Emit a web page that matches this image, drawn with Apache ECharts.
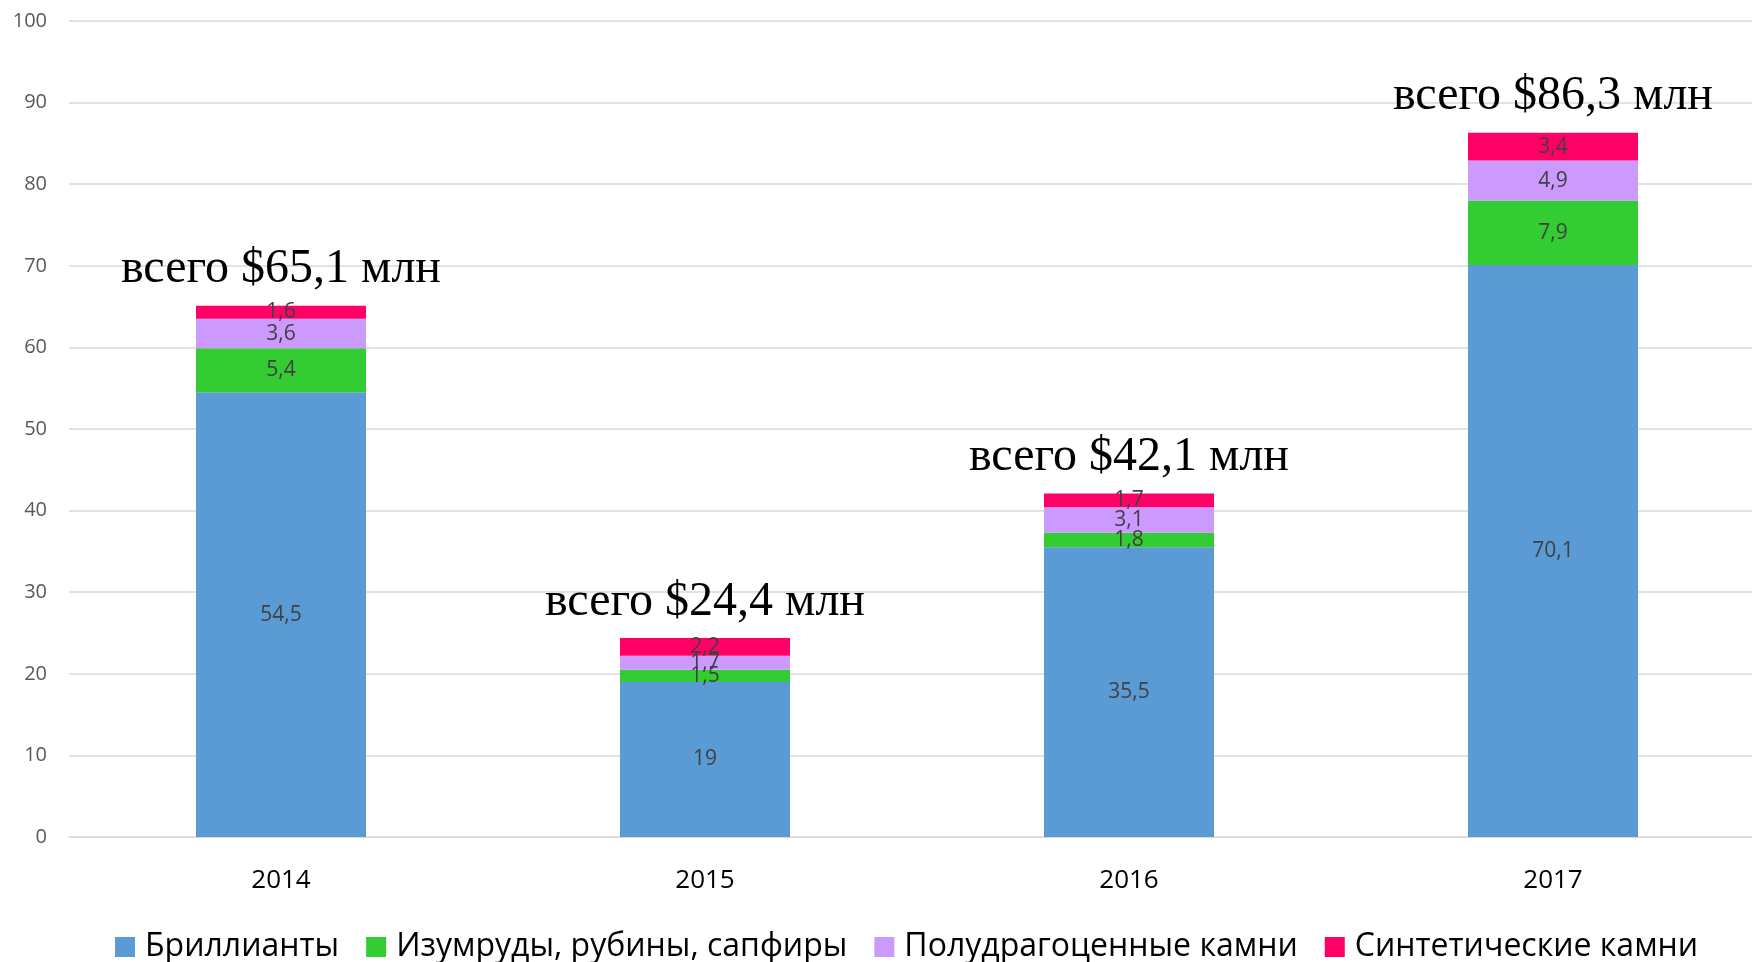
<!DOCTYPE html>
<html>
<head>
<meta charset="utf-8">
<script src="https://cdn.jsdelivr.net/npm/echarts@6/dist/echarts.min.js"></script>
<style>
  html, body { margin: 0; padding: 0; background: #fff; }
  #chart { width: 1752px; height: 962px; }
</style>
</head>
<body>
<div id="chart"></div>
<script>
var years = ['2014', '2015', '2016', '2017'];
var diamonds = [54.5, 19, 35.5, 70.1];
var emeralds = [5.4, 1.5, 1.8, 7.9];
var semiPrecious = [3.6, 1.7, 3.1, 4.9];
var synthetic = [1.6, 2.2, 1.7, 3.4];
var totals = [65.1, 24.4, 42.1, 86.3];
var yTicks = [0, 10, 20, 30, 40, 50, 60, 70, 80, 90, 100];

var names = ['Бриллианты', 'Изумруды, рубины, сапфиры', 'Полудрагоценные камни', 'Синтетические камни'];
var colors = ['#5B9BD5', '#33CC33', '#CC99FF', '#FF0066'];
var font = '"Open Sans", "Noto Sans", sans-serif';

function fmt(v) {
    return String(v).replace('.', ',');
}

function segment(name, data, color) {
    return {
        name: name,
        type: 'bar',
        stack: 'total',
        barWidth: 170,
        data: data,
        itemStyle: { color: color },
        label: {
            show: true,
            position: 'inside',
            color: '#404040',
            fontFamily: font,
            fontSize: 21,
            formatter: function (p) { return fmt(p.value); }
        }
    };
}

var chart = echarts.init(document.getElementById('chart'));
var option = {
    animation: false,
    color: colors,
    grid: { left: 69, right: -13, top: 21, bottom: 125, outerBoundsMode: 'none', containLabel: false },
    legend: {
        data: names,
        top: 926,
        left: 110,
        itemWidth: 20,
        itemHeight: 20,
        itemGap: 27,
        icon: 'rect',
        textStyle: { fontFamily: font, fontSize: 32, color: '#000', padding: [0, 0, 0, 5] }
    },
    xAxis: {
        type: 'category',
        data: years,
        axisTick: { show: false },
        axisLine: { lineStyle: { color: '#D9D9D9', width: 1.5 } },
        axisLabel: { color: '#000', fontFamily: font, fontSize: 26, margin: 31 }
    },
    yAxis: {
        type: 'value',
        min: yTicks[0],
        max: yTicks[yTicks.length - 1],
        interval: 10,
        axisLine: { show: false },
        axisTick: { show: false },
        axisLabel: { color: '#595959', fontFamily: font, fontSize: 20, margin: 22 },
        splitLine: { lineStyle: { color: '#D9D9D9', width: 1.5 } }
    },
    series: [
        segment(names[0], diamonds, colors[0]),
        segment(names[1], emeralds, colors[1]),
        segment(names[2], semiPrecious, colors[2]),
        segment(names[3], synthetic, colors[3]),
        {
            name: 'всего',
            type: 'bar',
            stack: 'total',
            barWidth: 170,
            data: totals.map(function () { return 0; }),
            itemStyle: { color: 'transparent' },
            label: {
                show: true,
                position: 'top',
                distance: 12,
                color: '#000',
                fontFamily: '"Liberation Serif", "DejaVu Serif", serif',
                fontSize: 48,
                formatter: function (p) { return 'всего $' + fmt(totals[p.dataIndex]) + ' млн'; }
            }
        }
    ]
};
chart.setOption(option);
</script>
</body>
</html>
